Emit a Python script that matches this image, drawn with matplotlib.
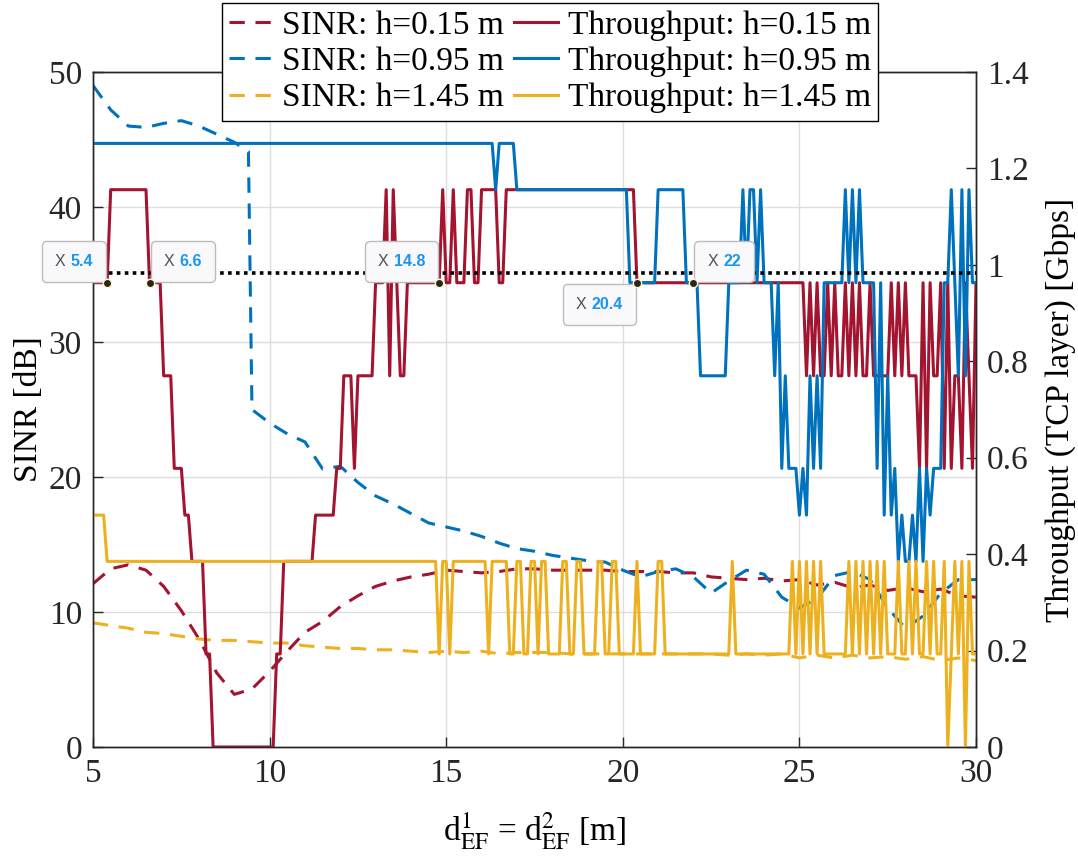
import numpy as np
import matplotlib
matplotlib.use("Agg")
import matplotlib.pyplot as plt
from matplotlib.offsetbox import TextArea, HPacker, AnnotationBbox
from matplotlib.ticker import FuncFormatter

plt.rcParams['font.family'] = ['Liberation Serif', 'DejaVu Serif']
plt.rcParams['mathtext.fontset'] = 'stix'

# ---- SINR curves [dB] (dashed, left axis) ----
SINR_015_X = [5.0, 5.5, 6.0, 6.5, 7.0, 7.5, 8.0, 8.5, 9.0, 9.5, 10.0, 10.5, 11.0, 11.5, 12.0, 12.5,
              13.0, 13.5, 14.0, 14.5, 15.0, 15.5, 16.0, 16.5, 17.0, 17.5, 18.0, 18.5, 19.0, 19.5,
              20.0, 20.5, 21.0, 21.5, 22.0, 22.5, 23.0, 23.5, 24.0, 24.5, 25.0, 25.5, 26.0, 26.5,
              27.0, 27.5, 28.0, 28.5, 29.0, 29.5, 30.0]
SINR_015_Y = [12.1, 13.2, 13.5, 13.1, 11.9, 10.1, 8.0, 5.5, 3.9, 4.3, 5.6, 7.1, 8.5, 9.3, 10.4, 11.2,
              11.9, 12.3, 12.6, 12.8, 13.1, 13.0, 12.9, 13.0, 13.2, 13.2, 13.1, 13.1, 13.1, 13.1,
              13.0, 13.0, 13.0, 12.9, 12.9, 12.6, 12.5, 12.4, 12.5, 12.3, 12.4, 12.0, 12.2, 11.8,
              12.0, 11.6, 11.8, 11.5, 11.7, 11.2, 11.1]

SINR_095_X = [5.0, 5.5, 6.0, 6.5, 7.0, 7.5, 8.0, 8.5, 9.0, 9.4, 9.5, 10.0, 10.5, 11.0, 11.5, 12.0,
              12.5, 13.0, 13.5, 14.0, 14.5, 15.0, 15.5, 16.0, 16.5, 17.0, 17.5, 18.0, 18.5, 19.0,
              19.5, 20.0, 20.5, 21.0, 21.5, 22.0, 22.5, 23.0, 23.5, 24.0, 24.5, 25.0, 25.5, 26.0,
              26.5, 27.0, 27.5, 28.0, 28.5, 29.0, 29.5, 30.0]
SINR_095_Y = [49.0, 47.2, 46.0, 45.9, 46.2, 46.4, 46.0, 45.4, 44.8, 44.1, 25.0, 24.0, 23.2, 22.6, 20.6, 20.8,
              19.6, 18.6, 18.0, 17.3, 16.6, 16.3, 16.0, 15.6, 15.1, 14.7, 14.5, 14.2, 14.0, 13.8,
              13.7, 13.1, 12.6, 13.0, 13.2, 12.6, 11.4, 12.3, 13.1, 12.8, 11.1, 10.3, 11.0, 12.7,
              13.0, 12.4, 10.3, 8.8, 9.7, 11.4, 12.4, 12.4]

SINR_145_X = SINR_015_X
SINR_145_Y = [9.2, 9.0, 8.8, 8.5, 8.4, 8.2, 8.0, 7.9, 7.9, 7.8, 7.7, 7.7, 7.5, 7.4, 7.3, 7.3,
              7.2, 7.2, 7.1, 7.0, 7.1, 7.0, 7.1, 6.9, 7.0, 7.0, 7.0, 6.9, 6.9, 6.9,
              6.9, 6.9, 6.9, 6.9, 6.9, 6.9, 6.8, 6.9, 6.8, 6.9, 6.6, 6.8, 6.6, 6.8,
              6.6, 6.7, 6.5, 6.7, 6.4, 6.6, 6.4]

# ---- Throughput (TCP layer) [Gbps], solid, right axis ----
# one sample every 0.1 m from 5.0 to 30.0, given as index into TP_LEVELS
TP_LEVELS = [0.0, 0.193, 0.385, 0.481, 0.578, 0.770, 0.963, 1.156, 1.252]
TP_X0, TP_DX = 5.0, 0.1

TP_015 = [6, 6, 6, 6, 6, 7, 7, 7, 7, 7,   # 5 m
          7, 7, 7, 7, 7, 7, 6, 6, 6, 6,   # 6 m
          5, 5, 5, 4, 4, 4, 3, 3, 2, 2,   # 7 m
          2, 2, 1, 1, 0, 0, 0, 0, 0, 0,   # 8 m
          0, 0, 0, 0, 0, 0, 0, 0, 0, 0,   # 9 m
          0, 0, 1, 1, 2, 2, 2, 2, 2, 2,   # 10 m
          2, 2, 2, 3, 3, 3, 3, 3, 3, 4,   # 11 m
          4, 5, 5, 5, 4, 5, 5, 5, 5, 5,   # 12 m
          6, 6, 6, 7, 5, 7, 6, 5, 5, 6,   # 13 m
          6, 6, 6, 6, 6, 6, 6, 6, 6, 7,   # 14 m
          6, 6, 7, 6, 6, 6, 7, 7, 6, 6,   # 15 m
          7, 7, 7, 7, 7, 6, 6, 7, 7, 7,   # 16 m
          7, 7, 7, 7, 7, 7, 7, 7, 7, 7,   # 17 m
          7, 7, 7, 7, 7, 7, 7, 7, 7, 7,   # 18 m
          7, 7, 7, 7, 7, 7, 7, 7, 7, 7,   # 19 m
          7, 7, 7, 7, 6, 6, 6, 6, 6, 6,   # 20 m
          6, 6, 6, 6, 6, 6, 6, 6, 6, 6,   # 21 m
          6, 6, 6, 6, 6, 6, 6, 6, 6, 6,   # 22 m
          6, 6, 6, 6, 6, 6, 6, 6, 6, 6,   # 23 m
          6, 6, 6, 6, 6, 6, 6, 6, 6, 6,   # 24 m
          6, 6, 5, 6, 5, 6, 5, 5, 6, 5,   # 25 m
          6, 5, 5, 6, 5, 6, 5, 6, 5, 5,   # 26 m
          6, 5, 5, 5, 5, 5, 6, 5, 6, 5,   # 27 m
          6, 5, 5, 5, 4, 6, 4, 6, 5, 5,   # 28 m
          6, 4, 6, 4, 5, 5, 4, 6, 5, 4,   # 29 m
          6]

TP_095 = [8, 8, 8, 8, 8, 8, 8, 8, 8, 8,   # 5 m
          8, 8, 8, 8, 8, 8, 8, 8, 8, 8,   # 6 m
          8, 8, 8, 8, 8, 8, 8, 8, 8, 8,   # 7 m
          8, 8, 8, 8, 8, 8, 8, 8, 8, 8,   # 8 m
          8, 8, 8, 8, 8, 8, 8, 8, 8, 8,   # 9 m
          8, 8, 8, 8, 8, 8, 8, 8, 8, 8,   # 10 m
          8, 8, 8, 8, 8, 8, 8, 8, 8, 8,   # 11 m
          8, 8, 8, 8, 8, 8, 8, 8, 8, 8,   # 12 m
          8, 8, 8, 8, 8, 8, 8, 8, 8, 8,   # 13 m
          8, 8, 8, 8, 8, 8, 8, 8, 8, 8,   # 14 m
          8, 8, 8, 8, 8, 8, 8, 8, 8, 8,   # 15 m
          8, 8, 8, 8, 7, 8, 8, 8, 8, 8,   # 16 m
          7, 7, 7, 7, 7, 7, 7, 7, 7, 7,   # 17 m
          7, 7, 7, 7, 7, 7, 7, 7, 7, 7,   # 18 m
          7, 7, 7, 7, 7, 7, 7, 7, 7, 7,   # 19 m
          7, 7, 6, 6, 6, 6, 6, 6, 6, 6,   # 20 m
          7, 7, 7, 7, 7, 7, 7, 7, 6, 6,   # 21 m
          6, 6, 5, 5, 5, 5, 5, 5, 5, 5,   # 22 m
          6, 6, 6, 6, 7, 6, 7, 7, 6, 7,   # 23 m
          6, 6, 6, 5, 6, 4, 5, 4, 4, 4,   # 24 m
          3, 4, 3, 5, 4, 5, 4, 6, 6, 6,   # 25 m
          6, 6, 6, 7, 6, 7, 6, 7, 6, 6,   # 26 m
          6, 6, 4, 6, 3, 5, 3, 4, 2, 3,   # 27 m
          2, 2, 3, 2, 4, 2, 4, 3, 4, 4,   # 28 m
          4, 6, 6, 7, 6, 5, 7, 5, 7, 6,   # 29 m
          6]

TP_145 = [3, 3, 3, 3, 2, 2, 2, 2, 2, 2,   # 5 m
          2, 2, 2, 2, 2, 2, 2, 2, 2, 2,   # 6 m
          2, 2, 2, 2, 2, 2, 2, 2, 2, 2,   # 7 m
          2, 2, 2, 2, 2, 2, 2, 2, 2, 2,   # 8 m
          2, 2, 2, 2, 2, 2, 2, 2, 2, 2,   # 9 m
          2, 2, 2, 2, 2, 2, 2, 2, 2, 2,   # 10 m
          2, 2, 2, 2, 2, 2, 2, 2, 2, 2,   # 11 m
          2, 2, 2, 2, 2, 2, 2, 2, 2, 2,   # 12 m
          2, 2, 2, 2, 2, 2, 2, 2, 2, 2,   # 13 m
          2, 2, 2, 2, 2, 2, 2, 2, 1, 2,   # 14 m
          2, 1, 2, 2, 2, 2, 2, 2, 2, 2,   # 15 m
          2, 2, 1, 2, 2, 2, 2, 2, 1, 1,   # 16 m
          2, 2, 1, 1, 2, 2, 1, 2, 2, 1,   # 17 m
          1, 1, 1, 2, 2, 1, 1, 2, 2, 1,   # 18 m
          1, 1, 1, 2, 2, 1, 1, 2, 2, 1,   # 19 m
          1, 1, 1, 1, 2, 1, 1, 1, 1, 1,   # 20 m
          2, 2, 1, 1, 1, 1, 1, 1, 1, 1,   # 21 m
          1, 1, 1, 1, 1, 1, 1, 1, 1, 1,   # 22 m
          1, 2, 1, 1, 1, 1, 1, 1, 1, 1,   # 23 m
          1, 1, 1, 1, 1, 1, 1, 1, 2, 1,   # 24 m
          2, 1, 2, 1, 2, 1, 2, 1, 1, 1,   # 25 m
          1, 1, 1, 1, 2, 1, 2, 1, 2, 1,   # 26 m
          2, 1, 2, 1, 2, 1, 1, 1, 2, 1,   # 27 m
          1, 2, 1, 2, 1, 1, 2, 1, 2, 1,   # 28 m
          1, 2, 0, 1, 2, 1, 2, 0, 2, 1,   # 29 m
          1]

THRESHOLD = 0.983          # Gbps, dotted line
TIP_X = [5.4, 6.6, 14.8, 20.4, 22.0]   # data tips on h=0.15 m throughput

RED, BLUE, YELLOW = '#A2142F', '#0072BD', '#EDB120'
INK = '#262626'


def tp_curve(idx):
    x = TP_X0 + TP_DX * np.arange(len(idx))
    y = np.array(TP_LEVELS)[np.array(idx)]
    return x, y


fig = plt.figure(figsize=(10.78, 8.65), dpi=100)
ax = fig.add_axes([0.0863, 0.1364, 0.8191, 0.7803])
ax2 = ax.twinx()

dash = (5, 3.5)
lw = 2.2
h1, = ax.plot(SINR_015_X, SINR_015_Y, color=RED, lw=lw, ls='--', dashes=dash)
h2, = ax.plot(SINR_095_X, SINR_095_Y, color=BLUE, lw=lw, ls='--', dashes=dash)
h3, = ax.plot(SINR_145_X, SINR_145_Y, color=YELLOW, lw=lw, ls='--', dashes=dash)

x, y = tp_curve(TP_015)
h4, = ax2.plot(x, y, color=RED, lw=lw)
x, y = tp_curve(TP_095)
h5, = ax2.plot(x, y, color=BLUE, lw=lw)
x, y = tp_curve(TP_145)
h6, = ax2.plot(x, y, color=YELLOW, lw=lw)

ax2.axhline(THRESHOLD, color='black', lw=2.6, ls=(0, (1, 1.2)), zorder=4)

ax.set_xlim(5, 30)
ax.set_ylim(0, 50)
ax2.set_ylim(0, 1.4)
ax.set_xticks([5, 10, 15, 20, 25, 30])
ax.set_yticks([0, 10, 20, 30, 40, 50])
ax2.set_yticks(np.arange(0, 1.41, 0.2))
ax2.yaxis.set_major_formatter(FuncFormatter(lambda v, p: f'{v:g}'))

ax.grid(True, color='#dedede', lw=1)
for a in (ax, ax2):
    a.tick_params(direction='in', length=7, width=1, labelsize=24, colors=INK, pad=8)
    for s in a.spines.values():
        s.set_color(INK)
        s.set_linewidth(1)

ax.set_ylabel('SINR [dB]', fontsize=24, color='black', labelpad=3.5)
ax2.set_ylabel('Throughput (TCP layer) [Gbps]', fontsize=24, color='black', labelpad=11)
ax.set_xlabel(r'd$_{\mathrm{EF}}^{1}$ = d$_{\mathrm{EF}}^{2}$ [m]', fontsize=24, color='black', labelpad=16)

# data tips
tip_fs = 11.5
tip_pad = 0.81                      # box padding, fraction of tip_fs
p = tip_pad * tip_fs + 0.7          # offset in points so the box corner sits at the dot
tip_corner = {5.4: (1, 0), 6.6: (0, 0), 14.8: (1, 0), 20.4: (1, 1), 22.0: (0, 0)}
tip_off = {(1, 0): (-p, p), (0, 0): (p, p), (1, 1): (-p, -p)}
lv = np.array(TP_LEVELS)
for xv in TIP_X:
    yv = lv[TP_015[int(round((xv - TP_X0) / TP_DX))]]
    ax2.plot(xv, yv, 'o', ms=6, mfc=INK, mec='#fff8c0', mew=1, zorder=11)
    corner = tip_corner[xv]
    box = HPacker(children=[
        TextArea('X', textprops=dict(color='#505050', fontsize=tip_fs, family='Liberation Sans')),
        TextArea(f'{xv:g}', textprops=dict(color='#1a96f0', fontsize=tip_fs, fontweight='bold',
                                           family='Liberation Sans'))],
        sep=4, pad=0, align='baseline')
    ab = AnnotationBbox(box, (xv, yv), xybox=tip_off[corner], xycoords='data',
                        boxcoords='offset points', box_alignment=corner, fontsize=tip_fs,
                        annotation_clip=False,
                        bboxprops=dict(boxstyle=f'round,pad={tip_pad},rounding_size=0.3',
                                       fc='#f9f9fc', ec='#bcbcbc', lw=1))
    ab.set_zorder(10)
    ax2.add_artist(ab)

labels = ['SINR: h=0.15 m', 'SINR: h=0.95 m', 'SINR: h=1.45 m',
          'Throughput: h=0.15 m', 'Throughput: h=0.95 m', 'Throughput: h=1.45 m']
leg = ax2.legend([h1, h2, h3, h4, h5, h6], labels, ncol=2, loc='upper center',
                 bbox_to_anchor=(0.5102, 0.9965), bbox_transform=fig.transFigure,
                 fontsize=24, frameon=True, fancybox=False, edgecolor='black',
                 framealpha=1, borderpad=0.22, labelspacing=0.17, handlelength=1.3,
                 handletextpad=0.3, columnspacing=0.3, borderaxespad=0)
leg.get_frame().set_linewidth(1)
leg.set_zorder(20)

fig.savefig('out.png', dpi=100)
